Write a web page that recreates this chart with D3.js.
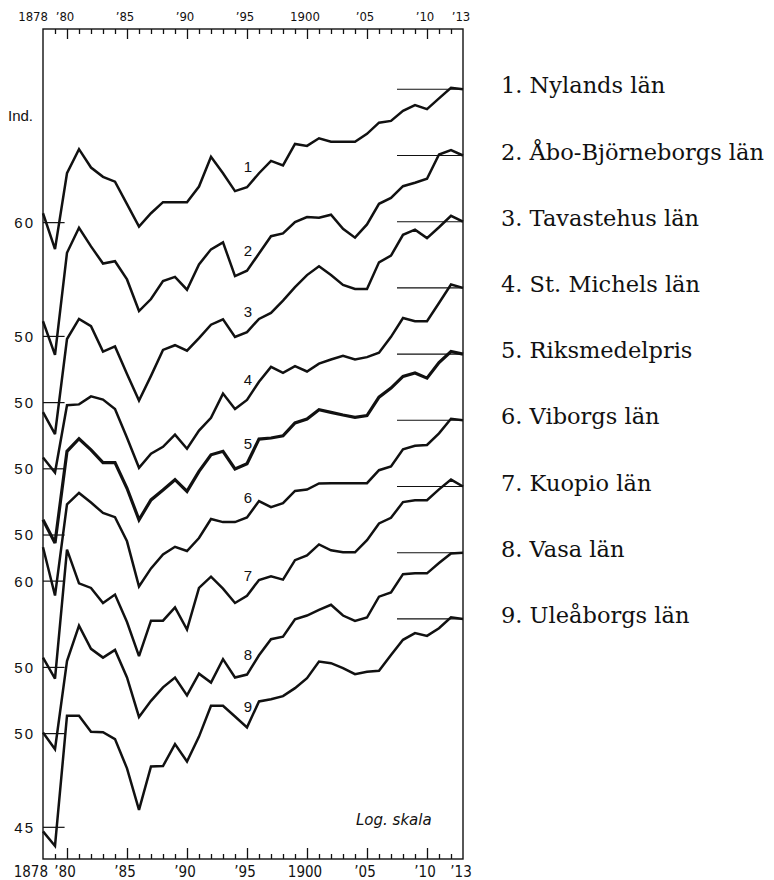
<!DOCTYPE html>
<html>
<head>
<meta charset="utf-8">
<script src="https://cdn.jsdelivr.net/npm/d3@7"></script>
<style>
  html, body { margin: 0; padding: 0; background: #fff; }
  svg { display: block; }
</style>
</head>
<body>
<svg id="chart" width="774" height="880"></svg>
<script>
// ---------------- DATA ----------------
const years = [1878,1879,1880,1881,1882,1883,1884,1885,1886,1887,1888,1889,1890,1891,1892,1893,1894,1895,
               1896,1897,1898,1899,1900,1901,1902,1903,1904,1905,1906,1907,1908,1909,1910,1911,1912,1913];

const seriesNames = ["Nylands län","Åbo-Björneborgs län","Tavastehus län","St. Michels län","Riksmedelpris",
                     "Viborgs län","Kuopio län","Vasa län","Uleåborgs län"];

// Index numbers (1913 = 100)
const nyland     = [62.2,54.2,72.5,79.5,74.1,71.5,70.2,64.4,59.1,62.2,64.9,64.9,64.9,68.9,77.2,72.5,67.7,68.7,72.5,76.0,74.7,81.1,80.5,82.9,81.8,81.8,81.8,84.3,88.0,88.6,92.1,94.1,92.7,96.6,100.6,100];
const aboBjorneb = [53.0,46.6,68.9,75.8,70.6,66.1,66.7,62.2,55.1,57.7,61.8,62.8,59.8,65.9,69.8,71.7,63.0,64.3,68.7,73.4,74.2,77.5,79.0,78.8,79.7,75.5,73.0,76.8,83.1,85.0,88.9,90.1,91.5,100.4,102.1,100];
const tavastehus = [48.2,44.3,63.8,68.9,67.0,60.8,62.0,55.8,50.4,55.4,61.2,62.3,61.0,64.0,67.4,68.8,64.3,65.5,68.9,70.5,73.9,77.8,81.5,84.3,81.5,78.5,77.3,77.3,85.6,87.8,95.1,97.0,93.9,97.9,102.3,100];
const stMichel   = [52.2,49.3,63.8,64.0,66.0,65.2,62.9,56.3,50.2,53.0,54.4,57.0,54.0,57.9,60.8,66.7,62.9,65.1,69.8,73.9,72.2,74.1,72.6,74.8,76.0,77.1,76.0,76.7,78.0,82.9,89.1,88.0,88.0,94.4,101.3,100];
const riksmedel  = [53.0,48.5,68.9,72.3,69.3,66.0,66.0,59.8,53.0,57.2,59.4,61.8,59.1,63.8,68.0,68.9,64.4,65.7,72.2,72.5,73.1,76.8,78.0,80.8,80.0,79.2,78.5,79.0,84.8,87.8,91.8,93.0,91.2,96.8,101.0,100];
const viborg     = [61.5,51.1,72.5,75.7,73.0,70.1,69.0,62.9,52.9,56.7,59.8,61.6,60.6,63.7,68.5,67.7,67.7,68.9,73.4,71.7,72.8,76.3,76.7,78.5,78.6,78.6,78.6,78.6,82.6,83.8,89.5,90.7,91.0,95.1,100.6,100];
const kuopio     = [51.9,47.9,78.5,69.0,67.8,64.0,66.1,59.5,52.2,59.8,59.8,62.9,57.8,67.8,70.8,67.6,64.0,65.8,69.9,70.9,70.0,75.4,76.8,80.1,78.3,77.7,77.7,81.4,86.8,88.7,94.2,94.9,94.9,98.9,102.7,100];
const vasa       = [50.2,47.1,66.0,75.6,69.2,66.9,68.9,62.0,53.3,56.7,59.7,62.0,57.9,62.9,60.8,66.5,62.0,62.7,67.5,71.8,72.5,77.5,78.6,80.3,81.9,78.6,77.0,78.0,84.5,85.9,92.1,92.4,92.4,96.1,99.7,100];
const uleaborg   = [44.3,41.9,69.0,69.0,64.9,64.8,63.1,56.4,48.1,56.8,56.9,61.9,57.9,63.7,71.7,71.7,68.8,66.0,72.9,73.5,74.4,76.7,79.7,84.9,84.4,82.8,80.9,81.7,82.0,87.1,92.3,94.7,93.7,96.5,100.6,100];

const allSeries = [nyland, aboBjorneb, tavastehus, stMichel, riksmedel, viborg, kuopio, vasa, uleaborg];

// reference marks on the left edge (label shown, level drawn)
const refLabels = ["60","50","50","50","50","60","50","50","45"];
const refValues = [60, 50, 50, 50, 50, 54, 50, 50, 45];

// axis ticks
const tickYears  = [1878,1880,1885,1890,1895,1900,1905,1910,1913];
const tickLabels = ["1878","’80","’85","’90","’95","1900","’05","’10","’13"];
const majorYears = [1880,1885,1890,1895,1900,1905,1910];
const minorYears = years.filter(y => y > 1878 && y < 1913 && majorYears.indexOf(y) < 0);

const baseValue = 100;
const refLineFrom = 1907.5;
const seriesLabelYear = 1895;

// ---------------- LAYOUT ----------------
(function draw() {
  const pL = 43, pR = 463, pT = 29, pB = 859;
  const firstBase = 89.3, step = 66.2, pxPerDecade = 601;

  const svg = d3.select("#chart");
  const x = d3.scaleLinear().domain([1878, 1913]).range([pL, pR]);
  const panel = d3.scaleLog().domain([40, 100]).range([pxPerDecade * Math.log10(100 / 40), 0]);
  const baseY = i => firstBase + i * step;
  const yOf = (i, v) => baseY(i) + panel(v);

  const sans = "'Liberation Sans', Arial, sans-serif";
  const narrow = "'Liberation Sans Narrow', 'DejaVu Sans Condensed', 'Liberation Sans', sans-serif";

  svg.append("rect").attr("x", pL).attr("y", pT).attr("width", pR - pL).attr("height", pB - pT)
    .attr("fill", "none").attr("stroke", "#111").attr("stroke-width", 1.4);

  function tickAxis(gen, yPos, vals, size) {
    const g = svg.append("g").attr("transform", `translate(0,${yPos})`)
      .call(gen(x).tickValues(vals).tickSize(size).tickFormat(""));
    g.select(".domain").remove();
    g.selectAll("line").attr("stroke", "#111").attr("stroke-width", 1.3);
  }
  tickAxis(d3.axisBottom, pT, minorYears, 5);
  tickAxis(d3.axisBottom, pT, majorYears, 10);
  tickAxis(d3.axisTop, pB, minorYears, 5);
  tickAxis(d3.axisTop, pB, majorYears, 11);

  function tickText(yPos, size) {
    svg.append("g").selectAll("text").data(tickYears).join("text")
      .attr("x", (d, i) => i === 0 ? x(d) + 5 : x(d) - 2)
      .attr("y", yPos)
      .attr("text-anchor", (d, i) => i === 0 ? "end" : "middle")
      .attr("font-family", narrow).attr("font-size", size).attr("fill", "#111")
      .text((d, i) => tickLabels[i]);
  }
  tickText(21, 13);
  tickText(877, 15);

  svg.append("text").attr("x", 8).attr("y", 121).attr("font-family", sans).attr("font-size", 15)
    .attr("fill", "#111").text("Ind.");

  allSeries.forEach((s, i) => {
    const yy = yOf(i, refValues[i]);
    svg.append("line").attr("x1", pL).attr("x2", x(1879.8)).attr("y1", yy).attr("y2", yy)
      .attr("stroke", "#111").attr("stroke-width", 1.2);
    svg.append("text").attr("x", 35).attr("y", yy).attr("dy", "0.36em").attr("text-anchor", "end")
      .attr("font-family", sans).attr("font-size", 15).attr("letter-spacing", 2).attr("fill", "#111")
      .text(refLabels[i]);
  });

  allSeries.forEach((s, i) => {
    const yy = yOf(i, baseValue);
    svg.append("line").attr("x1", x(refLineFrom)).attr("x2", pR).attr("y1", yy).attr("y2", yy)
      .attr("stroke", "#111").attr("stroke-width", 1.1);
  });

  allSeries.forEach((s, i) => {
    const line = d3.line().x((d, j) => x(years[j])).y(d => yOf(i, d));
    svg.append("path").datum(s).attr("d", line).attr("fill", "none").attr("stroke", "#111")
      .attr("stroke-width", i === 4 ? 3.2 : 2.5).attr("stroke-linejoin", "miter").attr("stroke-miterlimit", 3);
    const j = years.indexOf(seriesLabelYear);
    svg.append("text").attr("x", x(seriesLabelYear) + 1).attr("y", yOf(i, s[j]) - 15)
      .attr("text-anchor", "middle").attr("font-family", sans).attr("font-size", 15).attr("fill", "#111")
      .text(i + 1);
  });

  svg.append("text").attr("x", 356).attr("y", 825).attr("font-family", "'DejaVu Sans', sans-serif")
    .attr("font-style", "italic").attr("font-size", 15).attr("fill", "#111").text("Log. skala");

  allSeries.forEach((s, i) => {
    svg.append("text").attr("x", 501).attr("y", baseY(i) + 4)
      .attr("font-family", "'DejaVu Serif', serif").attr("font-size", 22.5).attr("fill", "#111")
      .text(`${i + 1}. ${seriesNames[i]}`);
  });
})();
</script>
</body>
</html>
